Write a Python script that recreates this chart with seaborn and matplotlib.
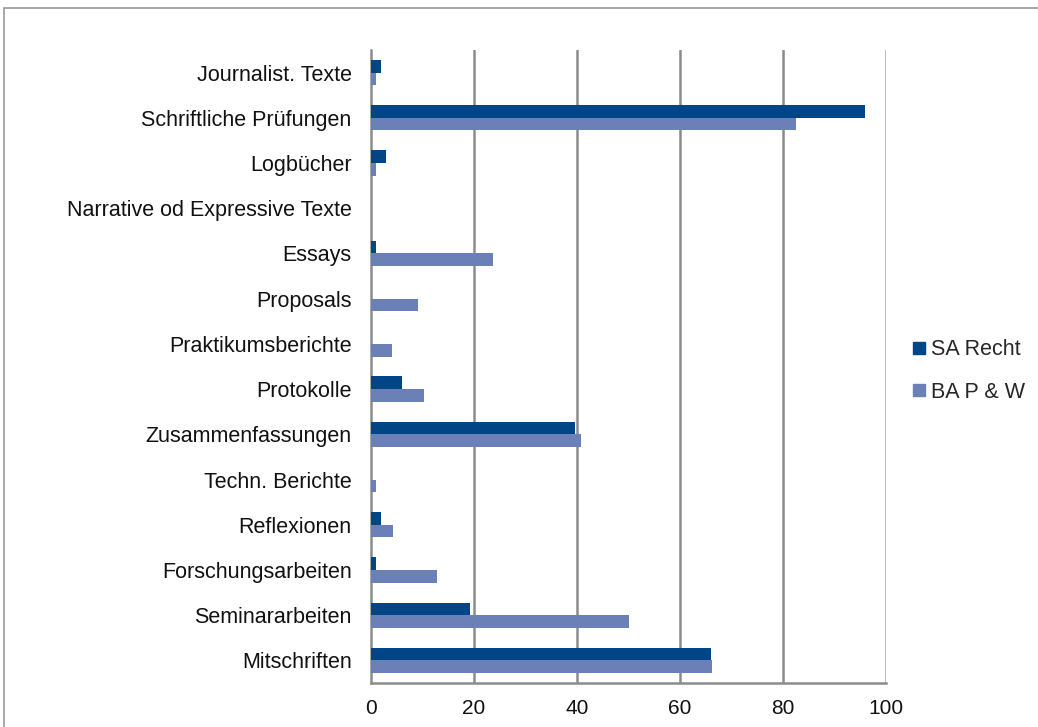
import matplotlib
matplotlib.use("Agg")
import matplotlib.pyplot as plt
from matplotlib.patches import Rectangle
from matplotlib.lines import Line2D
import seaborn as sns
import pandas as pd
import numpy as np

categories = ["Journalist. Texte", "Schriftliche Prüfungen", "Logbücher",
              "Narrative od Expressive Texte", "Essays", "Proposals",
              "Praktikumsberichte", "Protokolle", "Zusammenfassungen",
              "Techn. Berichte", "Reflexionen", "Forschungsarbeiten",
              "Seminararbeiten", "Mitschriften"]
sa_recht = [2, 96, 3, 0, 1, 0, 0, 6.1, 39.6, 0, 2, 1, 19.2, 66.0]
ba_pw = [1, 82.6, 1, 0, 23.6, 9.2, 4.0, 10.2, 40.7, 1, 4.2, 12.8, 50.0, 66.2]
series = ["SA Recht", "BA P & W"]
colors = ["#004586", "#6A80B6"]
xticks = [0, 20, 40, 60, 80, 100]

df = pd.DataFrame({
    "Kategorie": categories * 2,
    "Wert": sa_recht + ba_pw,
    "Serie": [series[0]] * len(categories) + [series[1]] * len(categories),
})

sns.set_style("white")
plt.rcParams["font.family"] = ["Liberation Sans", "DejaVu Sans"]
FS = 15.5

fig = plt.figure(figsize=(10.38, 7.27), dpi=100)
ax = fig.add_axes([371/1038, 1-683/727, (886-371)/1038, (683-50)/727])

sns.barplot(data=df, y="Kategorie", x="Wert", hue="Serie", order=categories,
            hue_order=series, palette=colors, orient="h", width=0.56,
            saturation=1, ax=ax, legend=False, linewidth=0, zorder=3)

ax.set_xlim(0, 100)
ax.set_ylim(len(categories) - 0.5, -0.5)
ax.set_xticks(xticks)
ax.set_xticklabels([str(v) for v in xticks], fontsize=15, color="#111111")
ax.set_xlabel("")
ax.set_ylabel("")
ax.tick_params(axis="y", which="major", length=0, labelsize=FS, pad=14, labelcolor="#111111")
ax.set_yticks(np.arange(-0.5, len(categories) + 0.5, 1), minor=True)
ax.tick_params(axis="y", which="minor", length=5.5, width=1.5, color="#8c8c8c", direction="out")
ax.tick_params(axis="x", which="major", length=5.5, width=1.5, color="#8c8c8c", direction="out", pad=6)

ax.grid(False)
for v in xticks[1:-1]:
    ax.axvline(v, color="#8c8c8c", linewidth=1.8, zorder=1)
ax.axvline(xticks[-1], color="#a8a8a8", linewidth=1.8, zorder=1)
for s in ["top", "right"]:
    ax.spines[s].set_visible(False)
for s in ["left", "bottom"]:
    ax.spines[s].set_color("#8c8c8c")
    ax.spines[s].set_linewidth(1.8)

handles = [Line2D([0], [0], marker="s", linestyle="", markersize=8,
                  markerfacecolor=c, markeredgecolor=c) for c in colors]
fig.legend(handles, series, loc="center left", bbox_to_anchor=(891/1038, 1-371/727),
           frameon=False, fontsize=FS, handletextpad=0.15, labelspacing=1.0,
           handlelength=0.8)

frame = Rectangle((4/1038, -0.05), 1.1, 1 - 8/727 + 0.05, transform=fig.transFigure,
                  fill=False, edgecolor="#9a9a9a", linewidth=1.2, zorder=0)
fig.add_artist(frame)

fig.savefig("out.png", dpi=100, facecolor="white")
